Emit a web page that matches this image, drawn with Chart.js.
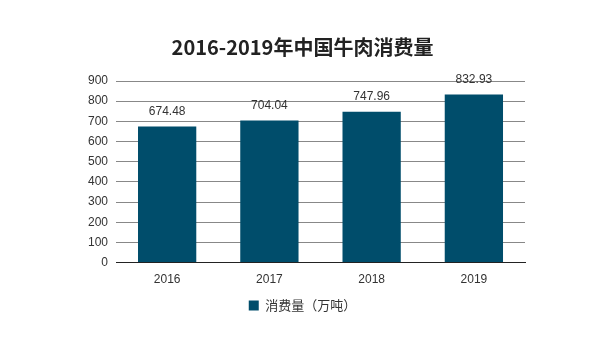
<!DOCTYPE html>
<html>
<head>
<meta charset="utf-8">
<script src="https://cdn.jsdelivr.net/npm/chart.js@4"></script>
<style>
  html, body { margin: 0; padding: 0; background: #fff; }
  #wrap { width: 600px; height: 360px; }
</style>
</head>
<body>
<div id="wrap"><canvas id="beefChart" width="600" height="360"></canvas></div>
<script>
const years = ['2016', '2017', '2018', '2019'];
const consumption = [674.48, 704.04, 747.96, 832.93];
const seriesName = '消费量（万吨）';
const chartTitle = '2016-2019年中国牛肉消费量';

// draws the value above each bar
const barValues = {
    id: 'barValues',
    afterDatasetsDraw(chart) {
        const ctx = chart.ctx;
        const meta = chart.getDatasetMeta(0);
        ctx.save();
        ctx.font = '12px "Liberation Sans", Arial, sans-serif';
        ctx.fillStyle = '#333';
        ctx.textAlign = 'center';
        ctx.textBaseline = 'bottom';
        meta.data.forEach(function(bar, i) {
            ctx.fillText(consumption[i].toFixed(2), bar.x, bar.y - 9);
        });
        ctx.restore();
    }
};

const ctx = document.getElementById('beefChart').getContext('2d');
const chart = new Chart(ctx, {
    type: 'bar',
    data: {
        labels: years,
        datasets: [{
            label: seriesName,
            data: consumption,
            backgroundColor: '#004d6b',
            barPercentage: 0.57,
            categoryPercentage: 1.0
        }]
    },
    options: {
        responsive: false,
        animation: { duration: 0 },
        layout: {
            padding: { left: 80, right: 75, top: 9, bottom: 38 }
        },
        scales: {
            x: {
                grid: { display: false },
                border: { color: '#222', width: 1 },
                ticks: {
                    color: '#333',
                    font: { family: '"Liberation Sans", Arial, sans-serif', size: 12 },
                    padding: 2
                }
            },
            y: {
                min: 0,
                max: 900,
                ticks: {
                    stepSize: 100,
                    color: '#333',
                    font: { family: '"Liberation Sans", Arial, sans-serif', size: 12 },
                    padding: 8
                },
                grid: { color: '#888', drawTicks: false },
                border: { display: false }
            }
        },
        plugins: {
            title: {
                display: true,
                text: chartTitle,
                color: '#222',
                font: { family: '"Noto Sans CJK SC", sans-serif', size: 20, weight: 'bold' },
                padding: { top: 26, bottom: 22 }
            },
            legend: {
                position: 'bottom',
                labels: {
                    boxWidth: 10,
                    boxHeight: 10,
                    color: '#333',
                    font: { family: '"Noto Sans CJK SC", sans-serif', size: 13 },
                    padding: 10
                }
            },
            tooltip: { enabled: false }
        }
    },
    plugins: [barValues]
});
</script>
</body>
</html>
